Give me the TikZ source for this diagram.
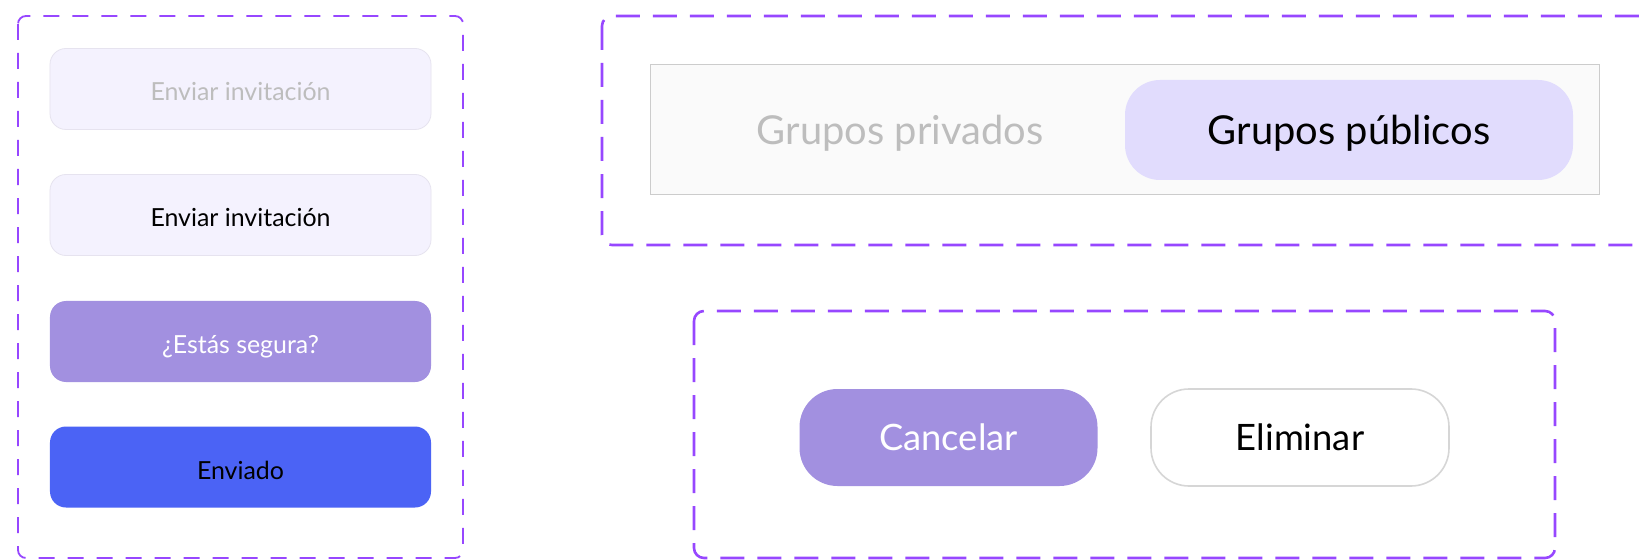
\documentclass[tikz,border=0pt]{standalone}
\usepackage{fontspec}
\setmainfont{Lato}
\definecolor{marco}{HTML}{9747FF}
\definecolor{lila}{HTML}{F4F2FE}
\definecolor{lilaborde}{HTML}{E6E3EF}
\definecolor{malva}{HTML}{A290E0}
\definecolor{azul}{HTML}{4B63F5}
\definecolor{gristexto}{HTML}{BDBDBD}
\definecolor{fondo}{HTML}{FAFAFA}
\definecolor{pastilla}{HTML}{E1DCFD}
\definecolor{borde}{HTML}{CCCCCC}
\definecolor{bordeclaro}{HTML}{D6D6D6}
\tikzset{
  marcochico/.style={draw=marco, line width=1.8bp, dash pattern=on 16bp off 13bp, rounded corners=8bp},
  marcogrande/.style={draw=marco, line width=2.6bp, dash pattern=on 24bp off 13bp, rounded corners=10bp},
  boton/.style={rectangle, rounded corners=16bp, minimum width=381bp, minimum height=81bp,
    text height=24bp, text depth=0bp, font=\fontsize{25}{30}\selectfont},
  pildora/.style={rectangle, rounded corners=38bp, minimum width=298bp, minimum height=97bp,
    text height=26bp, text depth=0bp, font=\fontsize{36.5}{42}\selectfont}
}
\begin{document}
\begin{tikzpicture}[x=1bp, y=-1bp]
    \useasboundingbox (0,0) rectangle (1639,560); % tamaño de la imagen
    \clip (0,0) rectangle (1639,560);
    \fill[white] (0,0) rectangle (1639,560); % fondo blanco
    \draw[marcochico] (18,16) rectangle (463,558); % marco de los estados del botón
    \node[boton, fill=lila, draw=lilaborde, line width=0.8bp, text=gristexto] (invitarA) at (240.5,89) {Enviar invitación}; % desactivado
    \node[boton, fill=lila, draw=lilaborde, line width=0.8bp, text=black] (invitarB) at (240.5,215) {Enviar invitación}; % normal
    \node[boton, fill=malva, text=white] (segura) at (240.5,341.5) {¿Estás segura?}; % confirmar
    \node[boton, fill=azul, text=black] (enviado) at (240.5,467) {Enviado}; % enviado
    \draw[marcogrande] (602,16) rectangle (1680,245); % marco del selector
    \node[rectangle, fill=fondo, draw=borde, line width=1bp, minimum width=949bp, minimum height=130bp] (selector) at (1124.5,130) {}; % barra del selector
    \node[pildora, fill=pastilla, rounded corners=35bp, minimum width=448bp, minimum height=100bp,
      text height=30bp, font=\fontsize{40}{46}\selectfont] (publicos) at (1349,130) {Grupos públicos}; % opción activa
    \node[pildora, text=gristexto, fill=none, text height=30bp, font=\fontsize{40}{46}\selectfont] (privados) at (900,130) {Grupos privados}; % opción inactiva
    \draw[marcogrande] (694,311) rectangle (1555,558); % marco del diálogo
    \node[pildora, fill=malva, text=white] (cancelar) at (948.5,437.5) {Cancelar}; % botón cancelar
    \node[pildora, fill=white, draw=bordeclaro, line width=1.6bp] (eliminar) at (1300,437.5) {Eliminar}; % botón eliminar
\end{tikzpicture}
\end{document}
